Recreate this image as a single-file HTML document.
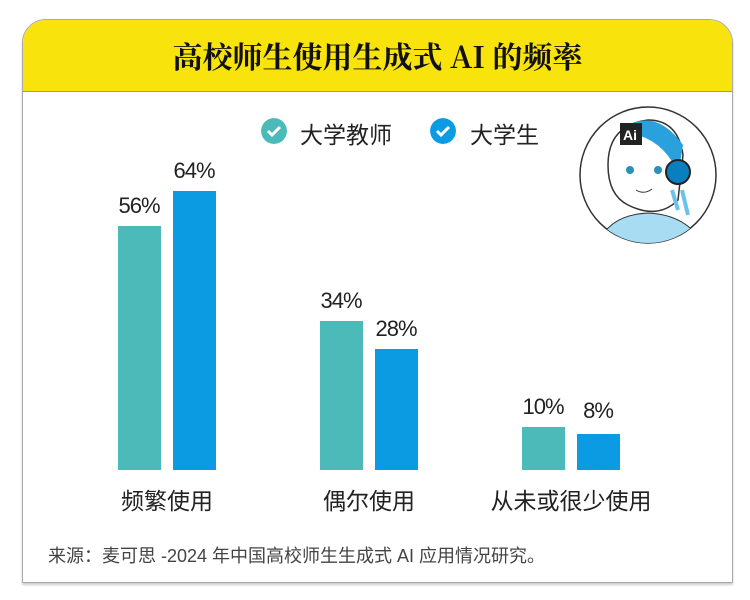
<!DOCTYPE html>
<html><head><meta charset="utf-8"><style>
body{margin:0;width:750px;height:600px;background:#fff;position:relative;overflow:hidden;font-family:"Liberation Sans","Noto Sans CJK SC",sans-serif;}
.card{position:absolute;left:22px;top:19px;width:709px;height:562px;border:1.5px solid #aaa;border-radius:24px 24px 0 0;overflow:hidden;background:#fff;box-shadow:0 2px 2px #ccc}
.head{position:absolute;left:0;top:0;width:100%;height:71px;background:#f8e30c;border-bottom:1.5px solid #999;text-align:center;line-height:71px;font-family:"Noto Serif CJK SC",serif;font-weight:bold;font-size:30px;color:#111}
.bar{position:absolute;width:43px}
.t{background:#4bbab8}.b{background:#0a9be3}
.p{position:absolute;font-size:22px;color:#222;width:80px;text-align:center;letter-spacing:-1px}
.c{position:absolute;font-size:23px;color:#222;text-align:center;width:200px}
.chk{position:absolute;width:26px;height:26px;border-radius:50%}
.lg{position:absolute;font-size:23px;color:#222;top:116px}
</style></head><body>
<div class="card"><div class="head">高校师生使用生成式 AI 的频率</div></div>
<svg class="chk" style="left:261px;top:118px" viewBox="0 0 26 26"><circle cx="13" cy="13" r="13" fill="#4bbab8"/><path d="M7 13l4 4 8-8" stroke="#fff" stroke-width="3" fill="none"/></svg>
<div class="lg" style="left:300px">大学教师</div>
<svg class="chk" style="left:430px;top:118px" viewBox="0 0 26 26"><circle cx="13" cy="13" r="13" fill="#0a9be3"/><path d="M7 13l4 4 8-8" stroke="#fff" stroke-width="3" fill="none"/></svg>
<div class="lg" style="left:470px">大学生</div>
<svg style="position:absolute;left:578px;top:105px" width="142" height="140" viewBox="0 0 142 140">
<defs><clipPath id="cc"><circle cx="70" cy="70" r="68"/></clipPath></defs>
<circle cx="70" cy="70" r="68" fill="#fff" stroke="#333" stroke-width="1.5"/>
<g clip-path="url(#cc)">
<path d="M20 140 Q30 110 70 108 Q110 110 125 140Z" fill="#a8dcf2" stroke="#333"/>
<path d="M30 60 Q30 20 70 15 Q100 15 105 50 L100 95 Q80 115 50 100 Q30 90 30 60Z" fill="#fff" stroke="#333" stroke-width="1.5"/>
<path d="M50 20 Q80 5 105 40 L100 70 Q90 40 60 30Z" fill="#2aa0dc"/>
<circle cx="100" cy="67" r="12" fill="#0a7fc0" stroke="#222" stroke-width="2"/>
<path d="M94 85 L100 105 M104 85 L110 110" stroke="#6cc3ea" stroke-width="4"/>
<circle cx="52" cy="65" r="4" fill="#2a90b8"/><circle cx="80" cy="65" r="4" fill="#2a90b8"/>
<path d="M58 85 Q66 90 74 84" stroke="#333" fill="none"/>
<rect x="42" y="18" width="22" height="22" fill="#222"/><text x="45" y="35" fill="#fff" font-size="14" font-weight="bold" font-family="Liberation Sans">Ai</text>
</g></svg>
<div class="bar t" style="left:118px;top:226px;height:244px"></div>
<div class="bar b" style="left:173px;top:191px;height:279px"></div>
<div class="bar t" style="left:320px;top:321px;height:149px"></div>
<div class="bar b" style="left:375px;top:349px;height:121px"></div>
<div class="bar t" style="left:522px;top:427px;height:43px"></div>
<div class="bar b" style="left:577px;top:434px;height:36px"></div>
<div class="p" style="left:99px;top:193px">56%</div>
<div class="p" style="left:154px;top:158px">64%</div>
<div class="p" style="left:301px;top:288px">34%</div>
<div class="p" style="left:356px;top:316px">28%</div>
<div class="p" style="left:503px;top:394px">10%</div>
<div class="p" style="left:558px;top:398px">8%</div>
<div class="c" style="left:67px;top:482px">频繁使用</div>
<div class="c" style="left:269px;top:482px">偶尔使用</div>
<div class="c" style="left:471px;top:482px">从未或很少使用</div>
<div style="position:absolute;left:48px;top:542px;font-size:18px;color:#444">来源：麦可思 -2024 年中国高校师生生成式 AI 应用情况研究。</div>
</body></html>
